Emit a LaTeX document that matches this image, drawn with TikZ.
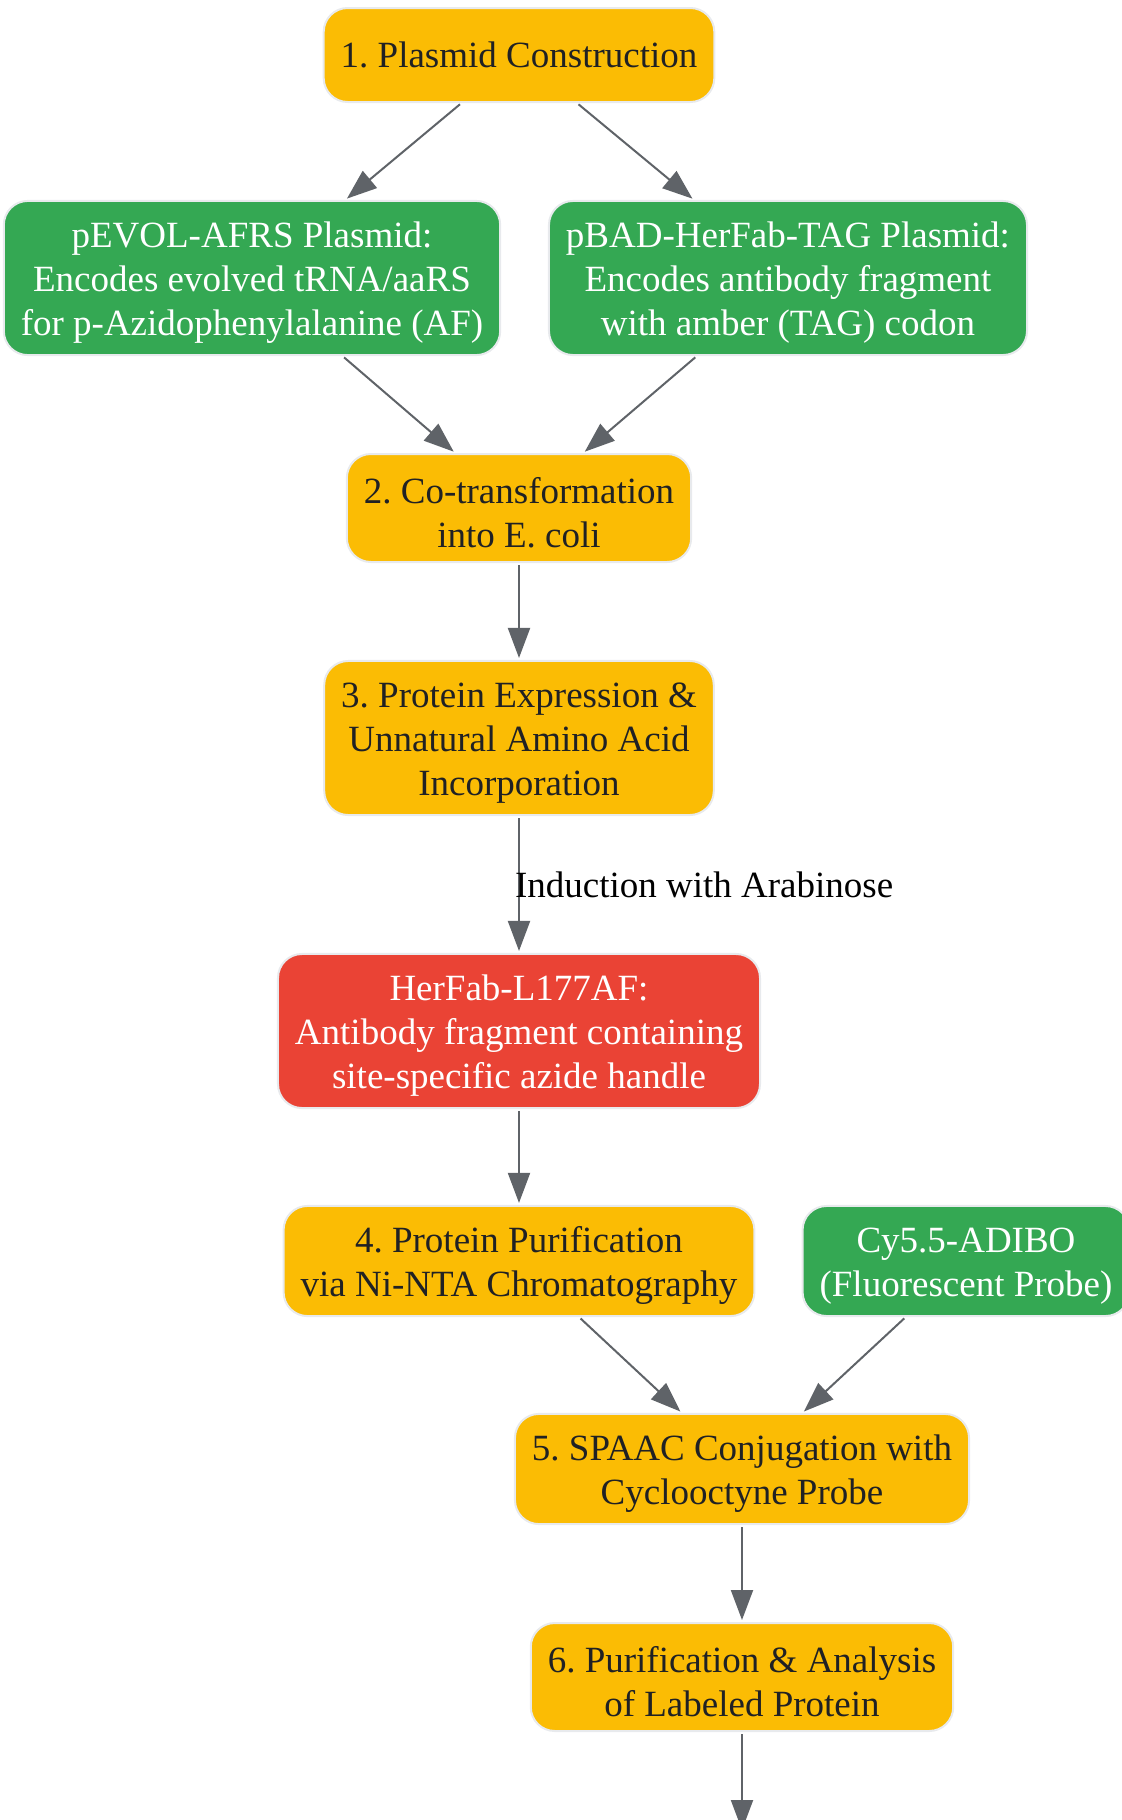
\documentclass[tikz,border=0pt]{standalone}
\usepackage{fontspec}
\setmainfont{Liberation Serif}
\frenchspacing
\usetikzlibrary{arrows.meta}
\definecolor{stepyellow}{HTML}{FBBC04}
\definecolor{plasgreen}{HTML}{34A853}
\definecolor{prodred}{HTML}{EA4335}
\definecolor{edgegray}{HTML}{5F6368}
\definecolor{rimgray}{HTML}{E8EAED}
\definecolor{inkdark}{HTML}{202124}
\newcommand{\padtop}{\rule{0pt}{17.5pt}}

\begin{document}
\begin{tikzpicture}
    [x=0.5pt,y=-0.5pt,
     every node/.style={rectangle, rounded corners=12pt, draw=rimgray, line width=1pt, align=center,
       font=\fontsize{18.5}{22}\selectfont, inner xsep=8.5pt, inner ysep=8.5pt, minimum height=47pt},
     stage/.style={fill=stepyellow, text=inkdark},
     input/.style={fill=plasgreen, text=white},
     product/.style={fill=prodred, text=white},
     multi/.style={inner ysep=5.8pt},
     twoline/.style={multi, minimum height=54pt},
     plain/.style={draw=none, fill=none, minimum height=0pt, inner sep=0pt, text=black},
     link/.style={draw=edgegray, line width=1pt, -{Triangle[length=15pt,width=11pt]}, shorten >=1pt, shorten <=1pt}]
    \useasboundingbox (0,0) rectangle (1122,1820);
    \node[stage] (s1) at (519,55) {1. Plasmid Construction};
    \node[input, multi] (pevol) at (252,278) {\padtop pEVOL-AFRS Plasmid:\\Encodes evolved tRNA/aaRS\\for p-Azidophenylalanine (AF)};
    \node[input, multi] (pbad) at (788,278) {\padtop pBAD-HerFab-TAG Plasmid:\\Encodes antibody fragment\\with amber (TAG) codon};
    \node[stage, twoline] (s2) at (519,508) {\padtop 2. Co-transformation\\into E. coli};
    \node[stage, multi] (s3) at (519,738) {\padtop 3. Protein Expression \&\\Unnatural Amino Acid\\Incorporation};
    \node[product, multi] (herfab) at (519,1031) {\padtop HerFab-L177AF:\\Antibody fragment containing\\site-specific azide handle};
    \node[stage, twoline] (s4) at (519,1261) {\padtop 4. Protein Purification\\via Ni-NTA Chromatography};
    \node[input, twoline] (probe) at (966,1261) {\padtop Cy5.5-ADIBO\\(Fluorescent Probe)};
    \node[stage, twoline] (s5) at (742,1469) {\padtop 5. SPAAC Conjugation with\\Cyclooctyne Probe};
    \node[stage, twoline] (s6) at (742,1677) {\padtop 6. Purification \& Analysis\\of Labeled Protein};
    \coordinate (next) at (742,1832);
    \foreach \from/\to in {s1/pevol, s1/pbad, pevol/s2, pbad/s2, s2/s3, herfab/s4, s4/s5, probe/s5, s5/s6, s6/next}
    \draw[link] (\from) -- (\to);
    \draw[link] (s3) -- node[plain, anchor=west, xshift=-2.5pt] (induce) {Induction with Arabinose} (herfab);
  \end{tikzpicture}
\end{document}
